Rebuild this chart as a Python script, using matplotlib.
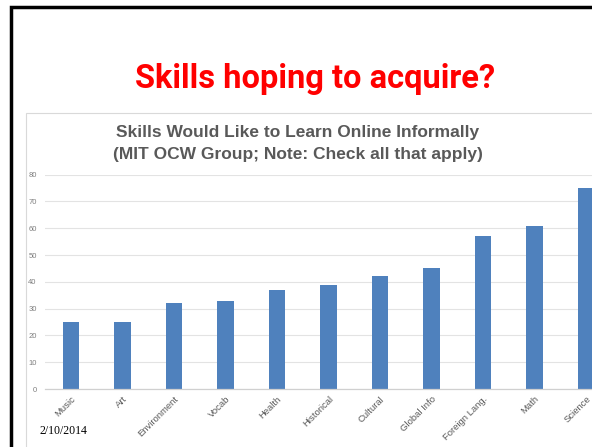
import matplotlib
matplotlib.use("Agg")
import matplotlib.pyplot as plt
from matplotlib.patches import Rectangle

categories = ["Music", "Art", "Environment", "Vocab", "Health", "Historical",
              "Cultural", "Global Info", "Foreign Lang.", "Math", "Science"]
values = [25, 25, 32, 33, 37, 39, 42, 45, 57, 61, 75]
yticks = [0, 10, 20, 30, 40, 50, 60, 70, 80]

W, H = 592, 447
fig = plt.figure(figsize=(W / 100, H / 100), dpi=100)
fig.patch.set_facecolor("white")

def px(x, y):
    return x / W, 1 - y / H

# slide border
fig.add_artist(Rectangle(px(11, 500), 700 / W, (500 - 7) / H, transform=fig.transFigure,
                         fill=False, edgecolor="black", linewidth=2.5))
# chart area border
fig.add_artist(Rectangle(px(26, 500), 700 / W, (500 - 113) / H, transform=fig.transFigure,
                         fill=False, edgecolor="#D9D9D9", linewidth=0.8))

# slide title
fig.text(*px(315, 79), "Skills hoping to acquire?", color="#FF0000",
         fontsize=23.5, fontweight="bold", family="Roboto", ha="center", va="center")

# chart title
fig.text(*px(298, 132), "Skills Would Like to Learn Online Informally",
         color="#595959", fontsize=12.5, fontweight="bold", family="Liberation Sans",
         ha="center", va="center")
fig.text(*px(298, 155), "(MIT OCW Group; Note: Check all that apply)",
         color="#595959", fontsize=12.5, fontweight="bold", family="Liberation Sans",
         ha="center", va="center")

# date
fig.text(*px(40, 431), "2/10/2014", color="black", fontsize=8.5,
         family="Liberation Serif", ha="left", va="center")

left, right, top, bottom = 45, 612, 174.7, 389
ax = fig.add_axes([left / W, 1 - bottom / H, (right - left) / W, (bottom - top) / H])
x = list(range(len(categories)))
ax.bar(x, values, width=0.32, color="#4F81BD", zorder=3)
ax.set_xlim(-0.5, len(categories) - 0.5)
ax.set_ylim(0, 80)
ax.set_yticks(yticks)
ax.set_yticklabels([str(v) for v in yticks], fontsize=5.5, color="#7F7F7F",
                   family="Liberation Sans")
ax.set_xticks(x)
ax.set_xticklabels(categories, rotation=45, ha="right", rotation_mode="anchor",
                   fontsize=6.8, color="#595959", family="Liberation Sans")
ax.tick_params(axis="both", length=0)
ax.tick_params(axis="y", pad=6)
ax.tick_params(axis="x", pad=4)
ax.grid(axis="y", color="#E3E3E3", linewidth=0.8, zorder=0)
for s in ["top", "right", "left"]:
    ax.spines[s].set_visible(False)
ax.spines["bottom"].set_color("#D0D0D0")
ax.spines["bottom"].set_linewidth(0.9)
ax.spines["bottom"].set_zorder(4)

fig.savefig("out.png", dpi=100)
